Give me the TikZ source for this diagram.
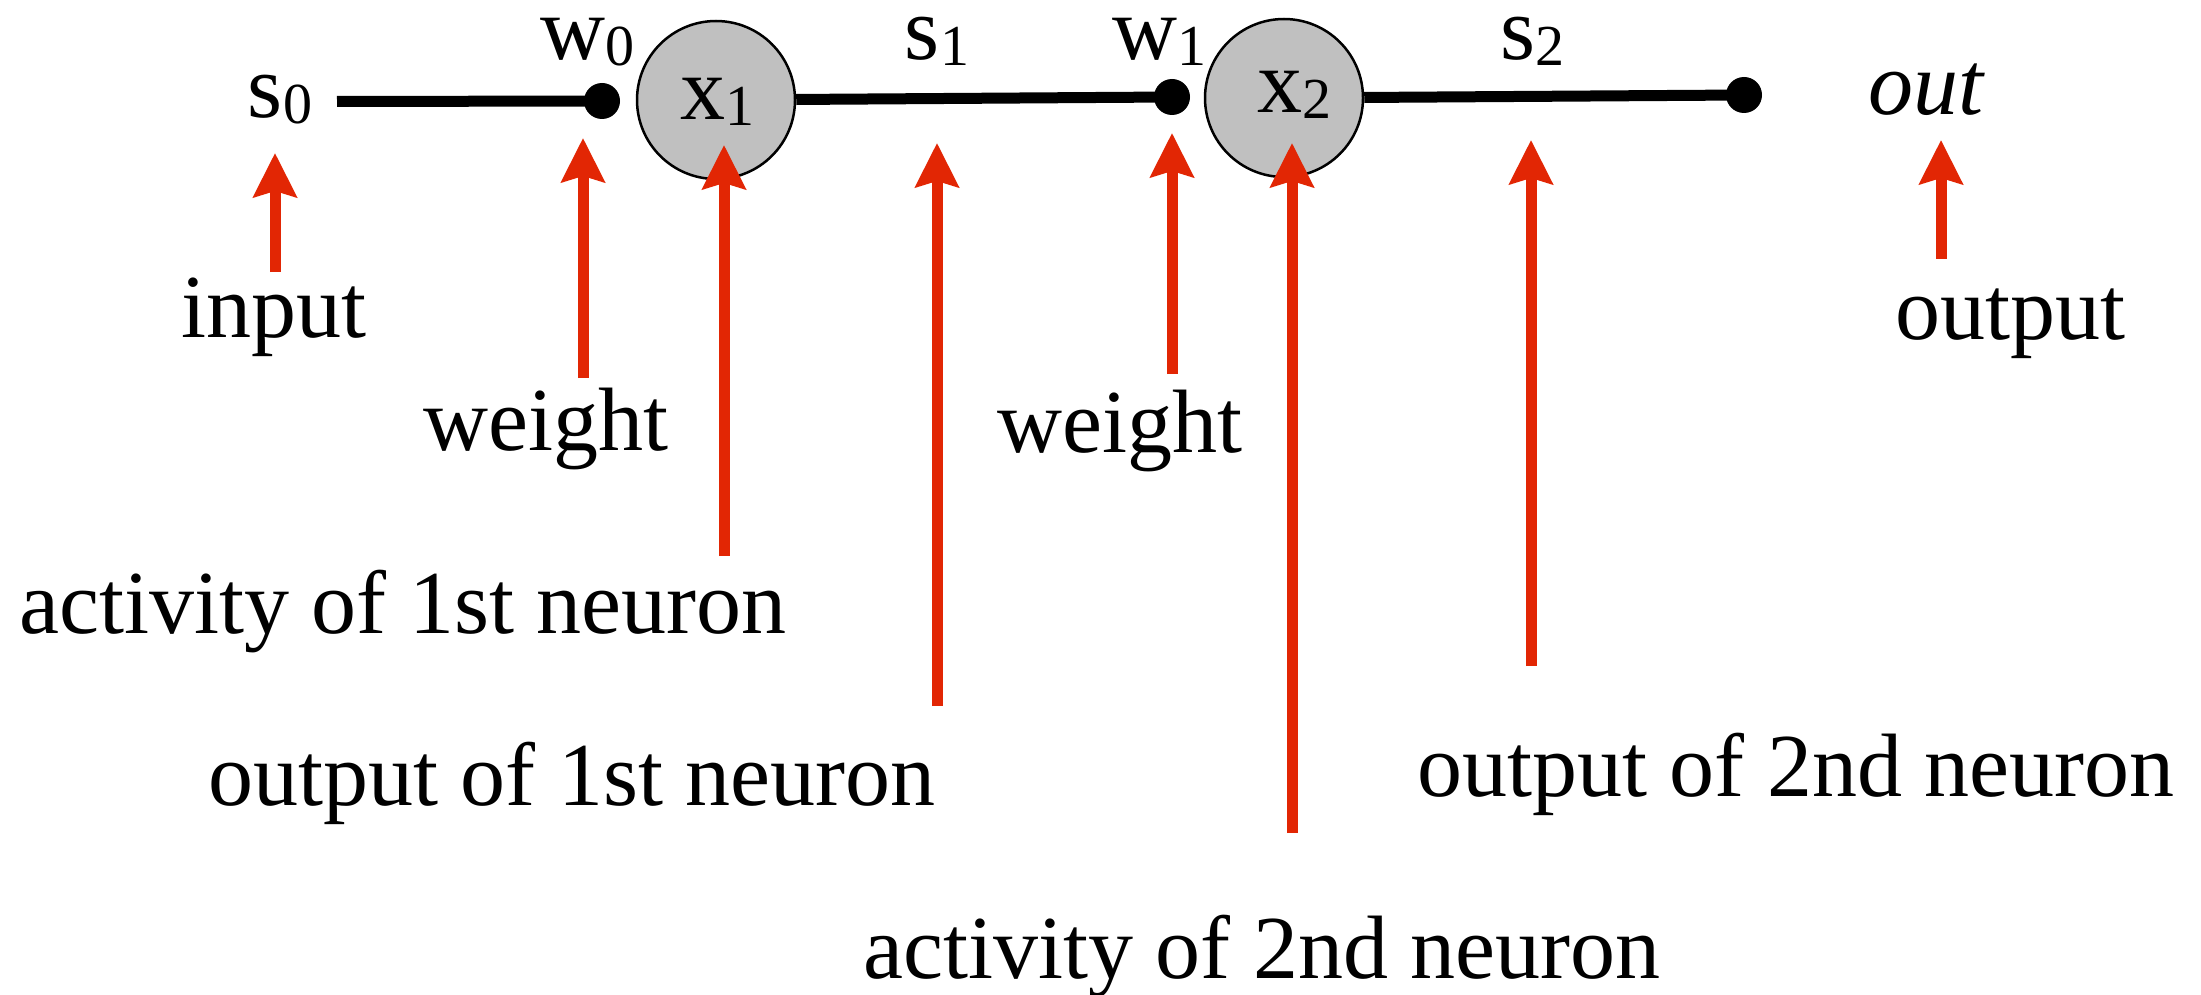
\documentclass[tikz,border=0pt]{standalone}
\usepackage{fontspec}
\setmainfont{Liberation Serif}
\usetikzlibrary{arrows.meta}
\definecolor{arrowred}{RGB}{226,38,4}
\definecolor{neurongray}{RGB}{192,192,192}
\newcommand\lbl[2]{#1\raisebox{-6pt}{\fontsize{58}{58}\selectfont #2}}
\begin{document}
\begin{tikzpicture}[x=1pt,y=-1pt,
  txt/.style={inner sep=0pt, anchor=base, font=\fontsize{90}{100}\selectfont},
  sym/.style={txt, text height=45pt, text depth=12pt},
  wire/.style={line width=11pt, black},
  neuron/.style={circle, draw=black, line width=2.5pt, fill=neurongray, minimum size=158pt, inner sep=0pt},
  blob/.style={circle, fill=black, minimum size=36pt, inner sep=0pt},
  pointer/.style={line width=11pt, arrowred, -{Stealth[length=44pt, width=43pt, inset=6pt]}}]
\useasboundingbox (0,0) rectangle (2201,995);

% top row
\coordinate (ls) at (337,101.5);
\node[blob] (d0) at (602,101) {};
\node[neuron] (n1) at (716,100) {};
\node[blob] (d1) at (1172,97) {};
\node[neuron] (n2) at (1284,98) {};
\node[blob] (d2) at (1744,95) {};
\draw[wire] (ls) -- (d0.center);
\draw[wire] (n1) -- (d1.center);
\draw[wire] (n2) -- (d2.center);

% symbol labels
\node[sym] (s0) at (280,118) {\lbl{s}{0}};
\node[sym] (w0) at (587,60) {\lbl{w}{0}};
\node[sym] (x1) at (717,120) {\lbl{x}{1}};
\node[sym] (s1) at (937,60) {\lbl{s}{1}};
\node[sym] (w1) at (1159,60) {\lbl{w}{1}};
\node[sym] (x2) at (1294,113) {\lbl{x}{2}};
\node[sym] (s2) at (1532,60) {\lbl{s}{2}};
\node[sym] (out) at (1927,115) {\textit{out}};

% explanation labels
\node[txt] (tin) at (274,337) {input};
\node[txt] (tw0) at (546,450) {weight};
\node[txt] (ta1) at (403,633) {activity of 1st neuron};
\node[txt] (to1) at (572,805) {output of 1st neuron};
\node[txt] (tw1) at (1120,452) {weight};
\node[txt] (ta2) at (1262,978) {activity of 2nd neuron};
\node[txt] (to2) at (1796,796) {output of 2nd neuron};
\node[txt] (tout) at (2010,339) {output};

% pointer arrows
\coordinate (p1a) at (275,272);  \coordinate (p1b) at (275,153);
\coordinate (p2a) at (583,378);  \coordinate (p2b) at (583,138);
\coordinate (p3a) at (724,556);  \coordinate (p3b) at (724,145);
\coordinate (p4a) at (937,706);  \coordinate (p4b) at (937,143);
\coordinate (p5a) at (1172,374); \coordinate (p5b) at (1172,133);
\coordinate (p6a) at (1292,833); \coordinate (p6b) at (1292,143);
\coordinate (p7a) at (1531,666); \coordinate (p7b) at (1531,140);
\coordinate (p8a) at (1941,259); \coordinate (p8b) at (1941,140);
\foreach \i in {1,...,8} \draw[pointer] (p\i a) -- (p\i b);
\end{tikzpicture}
\end{document}
